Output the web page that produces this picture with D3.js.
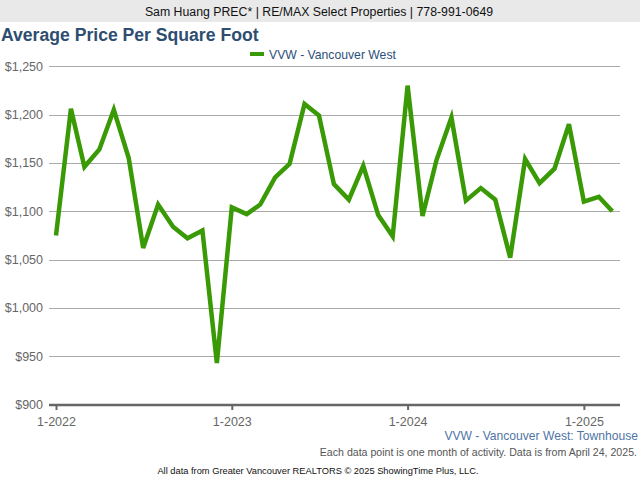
<!DOCTYPE html>
<html><head><meta charset="utf-8">
<script src="https://cdn.jsdelivr.net/npm/d3@7"></script>
<style>body{margin:0;background:#fff;}svg{display:block;font-family:Arial,"Liberation Sans",sans-serif;}</style>
</head><body>
<svg id="c" width="640" height="480"></svg>
<script>
const months = ["1-2022","2-2022","3-2022","4-2022","5-2022","6-2022","7-2022","8-2022","9-2022","10-2022","11-2022","12-2022",
"1-2023","2-2023","3-2023","4-2023","5-2023","6-2023","7-2023","8-2023","9-2023","10-2023","11-2023","12-2023",
"1-2024","2-2024","3-2024","4-2024","5-2024","6-2024","7-2024","8-2024","9-2024","10-2024","11-2024","12-2024",
"1-2025","2-2025","3-2025"];
const values = [1075,1206,1146,1164,1205,1155,1062,1107,1084,1072,1080,943,
1104,1097,1107,1135,1149,1211,1199,1128,1112,1147,1096,1074,
1230,1095,1153,1197,1111,1124,1112,1052,1154,1129,1144,1190,
1110,1115,1100];
const yTicks = [900,950,1000,1050,1100,1150,1200,1250];
const xTickLabels = ["1-2022","1-2023","1-2024","1-2025"];
const seriesName = "VVW - Vancouver West";

const svg = d3.select("#c");
const parse = d3.timeParse("%m-%Y");
const data = months.map((m,i)=>({d:parse(m), v:values[i]}));

// header band
svg.append("rect").attr("x",0).attr("y",0).attr("width",640).attr("height",22).attr("fill","#e9e9e9");
svg.append("text").attr("x",319).attr("y",15.5).attr("text-anchor","middle").attr("font-size",12.3).attr("fill","#111")
  .text("Sam Huang PREC* | RE/MAX Select Properties | 778-991-0649");
svg.append("text").attr("x",1).attr("y",40.5).attr("font-size",17.6).attr("font-weight","bold").attr("fill","#2e4d70")
  .text("Average Price Per Square Foot");

// legend
svg.append("rect").attr("x",250).attr("y",52).attr("width",14).attr("height",4).attr("fill","#3a9a06");
svg.append("text").attr("x",269).attr("y",58.5).attr("font-size",12.2).attr("fill","#2d4f7a").text(seriesName);

const x = d3.scaleTime().domain([parse("1-2022"), parse("3-2025")]).range([56, 612.3]);
const y = d3.scaleLinear().domain([900,1250]).range([404.5,66.3]);

// grid
svg.append("g").selectAll("line").data(yTicks.filter(t=>t>900)).join("line")
  .attr("x1",49).attr("x2",620).attr("y1",d=>Math.round(y(d))+0.5).attr("y2",d=>Math.round(y(d))+0.5)
  .attr("stroke","#aaaaaa").attr("stroke-width",1);

// y labels
svg.append("g").selectAll("text").data(yTicks).join("text")
  .attr("x",43).attr("y",d=>y(d)+4.5).attr("text-anchor","end").attr("font-size",12.5).attr("fill","#666")
  .text(d=>d3.format("$,")(d));

// x axis
const xa = svg.append("g").attr("transform","translate(0,405)")
  .call(d3.axisBottom(x).tickValues(xTickLabels.map(parse)).tickFormat(d3.timeFormat("%-m-%Y")).tickSizeOuter(0).tickSize(5));
xa.select(".domain").attr("stroke","#666").attr("stroke-width",2.5).attr("d","M49,0H620");
xa.selectAll(".tick line").attr("stroke","#666").attr("stroke-width",2);
xa.selectAll(".tick text").attr("font-size",12.5).attr("fill","#666").attr("font-family","Arial,'Liberation Sans',sans-serif").attr("dy","1em");

// line
svg.append("path").datum(data)
  .attr("d", d3.line().x(d=>x(d.d)).y(d=>y(d.v)))
  .attr("fill","none").attr("stroke","#3a9a06").attr("stroke-width",4.5).attr("stroke-linejoin","miter").attr("stroke-linecap","butt");

// footer
svg.append("text").attr("x",638).attr("y",440).attr("text-anchor","end").attr("font-size",12.1).attr("fill","#4f74a6")
  .text("VVW - Vancouver West: Townhouse");
svg.append("text").attr("x",637).attr("y",456).attr("text-anchor","end").attr("font-size",10.6).attr("fill","#555")
  .text("Each data point is one month of activity. Data is from April 24, 2025.");
svg.append("text").attr("x",318).attr("y",474).attr("text-anchor","middle").attr("font-size",9.3).attr("fill","#111")
  .text("All data from Greater Vancouver REALTORS © 2025 ShowingTime Plus, LLC.");
</script>
</body></html>
